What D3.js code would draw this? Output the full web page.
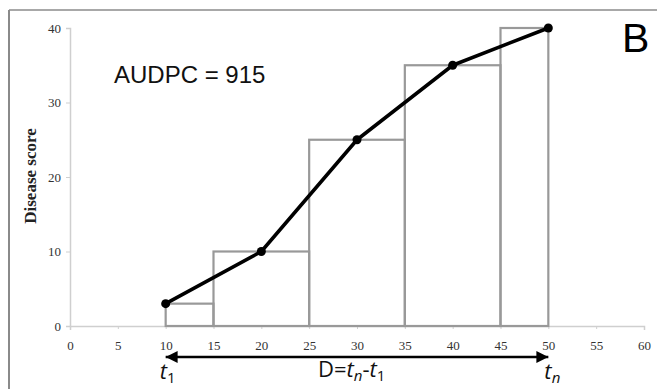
<!DOCTYPE html>
<html>
<head>
<meta charset="utf-8">
<script src="https://cdn.jsdelivr.net/npm/d3@7"></script>
<style>
  body { margin: 0; background: #fff; }
  svg { display: block; }
</style>
</head>
<body>
<svg id="chart" width="657" height="389"></svg>
<script>
// observation days and disease scores
const days = [10, 20, 30, 40, 50];
const scores = [3, 10, 25, 35, 40];
// rectangles used for the AUDPC area (midpoint rule)
const stepStarts = [10, 15, 25, 35, 45];
const stepEnds = [15, 25, 35, 45, 50];
const xTicks = [0, 5, 10, 15, 20, 25, 30, 35, 40, 45, 50, 55, 60];
const yTicks = [0, 10, 20, 30, 40];
const audpcLabel = "AUDPC = 915";
const panelLabel = "B";

const svg = d3.select("#chart");

const x = d3.scaleLinear().domain([0, 60]).range([70, 644]);
const y = d3.scaleLinear().domain([0, 40]).range([326, 28]);

// outer frame (top and left only)
svg.append("line")
  .attr("x1", 9).attr("x2", 657).attr("y1", 10).attr("y2", 10)
  .attr("stroke", "#a8a8a8").attr("stroke-width", 2);
svg.append("line")
  .attr("x1", 9).attr("x2", 9).attr("y1", 10).attr("y2", 389)
  .attr("stroke", "#8a8a8a").attr("stroke-width", 2);

// axes
const xAxis = svg.append("g")
  .attr("transform", "translate(0," + y(0) + ")")
  .call(d3.axisBottom(x).tickValues(xTicks).tickSize(4).tickPadding(11));
const yAxis = svg.append("g")
  .attr("transform", "translate(" + x(0) + ",0)")
  .call(d3.axisLeft(y).tickValues(yTicks).tickSize(4).tickPadding(5));

[xAxis, yAxis].forEach(g => {
  g.select(".domain").attr("stroke", "#cfcfcf").attr("stroke-width", 1.5);
  g.selectAll(".tick line").attr("stroke", "#cfcfcf");
  g.selectAll(".tick text")
    .attr("fill", "#333")
    .style("font-family", "'Liberation Serif', 'Times New Roman', serif")
    .style("font-size", "13px");
});
xAxis.selectAll(".tick line").attr("y1", 0).attr("y2", 3);

svg.append("text")
  .attr("transform", "translate(36," + 176 + ") rotate(-90)")
  .attr("text-anchor", "middle")
  .style("font-family", "'Liberation Serif', 'Times New Roman', serif")
  .style("font-weight", "bold")
  .style("font-size", "17px")
  .attr("fill", "#222")
  .text("Disease score");

// step rectangles
const steps = stepStarts.map((s, i) => ({ x0: s, x1: stepEnds[i], v: scores[i] }));
svg.selectAll("rect.step")
  .data(steps)
  .enter()
  .append("rect")
  .attr("class", "step")
  .attr("x", d => x(d.x0))
  .attr("y", d => y(d.v))
  .attr("width", d => x(d.x1) - x(d.x0))
  .attr("height", d => y(0) - y(d.v))
  .attr("fill", "none")
  .attr("stroke", "#999")
  .attr("stroke-width", 2.2);

// disease progress curve
const pts = days.map((d, i) => [d, scores[i]]);
svg.append("path")
  .datum(pts)
  .attr("d", d3.line().x(d => x(d[0])).y(d => y(d[1])))
  .attr("fill", "none")
  .attr("stroke", "#000")
  .attr("stroke-width", 3.5)
  .attr("stroke-linejoin", "round");

svg.selectAll("circle.pt")
  .data(pts)
  .enter()
  .append("circle")
  .attr("class", "pt")
  .attr("cx", d => x(d[0]))
  .attr("cy", d => y(d[1]))
  .attr("r", 4.5)
  .attr("fill", "#000");

// double-headed arrow D = tn - t1
const defs = svg.append("defs");
defs.append("marker")
  .attr("id", "head")
  .attr("viewBox", "0 0 10 10")
  .attr("refX", 10).attr("refY", 5)
  .attr("markerWidth", 7.8).attr("markerHeight", 4.6)
  .attr("markerUnits", "strokeWidth")
  .attr("orient", "auto-start-reverse")
  .append("path")
  .attr("d", "M0,0L10,5L0,10z")
  .attr("fill", "#000");

const t1 = days[0], tn = days[days.length - 1];
svg.append("line")
  .attr("x1", x(t1)).attr("x2", x(tn))
  .attr("y1", 357).attr("y2", 357)
  .attr("stroke", "#000").attr("stroke-width", 2.6)
  .attr("marker-start", "url(#head)")
  .attr("marker-end", "url(#head)");

const sans = "'Open Sans', 'Liberation Sans', Arial, sans-serif";

function tLabel(cx, sub) {
  const t = svg.append("text")
    .attr("x", cx).attr("y", 379)
    .attr("text-anchor", "middle")
    .style("font-family", sans)
    .style("font-size", "22px")
    .attr("fill", "#111");
  t.append("tspan").style("font-style", "italic").text("t");
  t.append("tspan").attr("dy", 4).style("font-size", "15px")
    .style("font-style", sub === "n" ? "italic" : "normal").text(sub);
}
tLabel(x(t1) + 2, "1");
tLabel(x(tn) + 4, "n");

const dText = svg.append("text")
  .attr("x", 318).attr("y", 377)
  .style("font-family", sans)
  .style("font-size", "22px")
  .attr("fill", "#111");
dText.append("tspan").text("D=");
dText.append("tspan").style("font-style", "italic").text("t");
dText.append("tspan").attr("dy", 4).style("font-size", "15px").style("font-style", "italic").text("n");
dText.append("tspan").attr("dy", -4).text("-");
dText.append("tspan").style("font-style", "italic").text("t");
dText.append("tspan").attr("dy", 4).style("font-size", "15px").text("1");

svg.append("text")
  .attr("x", 114).attr("y", 83)
  .style("font-family", "'Liberation Sans', Arial, sans-serif")
  .style("font-size", "24px")
  .attr("fill", "#111")
  .text(audpcLabel);

svg.append("text")
  .attr("x", 622).attr("y", 52)
  .style("font-family", "'Liberation Sans', Arial, sans-serif")
  .style("font-size", "41px")
  .attr("fill", "#000")
  .text(panelLabel);
</script>
</body>
</html>
